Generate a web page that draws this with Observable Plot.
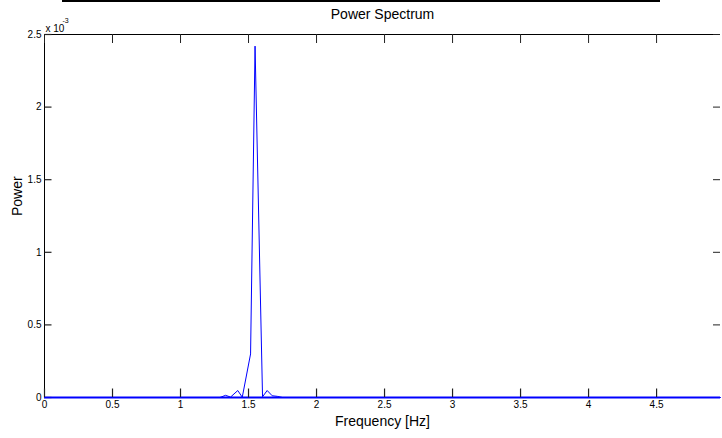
<!DOCTYPE html>
<html>
<head>
<meta charset="utf-8">
<script src="https://cdn.jsdelivr.net/npm/d3@7"></script>
<script src="https://cdn.jsdelivr.net/npm/@observablehq/plot@0.6"></script>
<style>
  html, body { margin: 0; padding: 0; background: white; }
  #wrap { position: relative; width: 722px; height: 438px; }
  #bar { position: absolute; left: 62px; top: 0; width: 598px; height: 2px; background: black; }
</style>
</head>
<body>
<div id="wrap"><div id="bar"></div></div>
<script>
// Frequency (Hz) and power (x 10^-3)
const freq  = [0, 1.29, 1.331, 1.368, 1.421, 1.454, 1.515, 1.548, 1.603, 1.637, 1.674, 1.711, 1.75, 4.97];
const power = [0, 0, 0.015, 0.003, 0.048, 0.002, 0.30, 2.42, 0.005, 0.048, 0.012, 0.008, 0, 0];
const xTicks = [0, 0.5, 1, 1.5, 2, 2.5, 3, 3.5, 4, 4.5];
const yTicks = [0, 0.5, 1, 1.5, 2, 2.5];
const title = "Power Spectrum";
const xLabel = "Frequency [Hz]";
const yLabel = "Power";

const data = freq.map((f, i) => ({f, p: power[i]}));
const narrow = "'Liberation Sans Narrow', 'Arial Narrow', 'Liberation Sans', Arial, sans-serif";
const sans = "'Liberation Sans', Arial, sans-serif";

const W = 722, H = 438, mT = 34, mL = 44, mR = 2, mB = 41;
const xMax = 4.97, yMax = 2.5;
const fw = W - mL - mR, fh = H - mT - mB, tlx = 9, tly = 7;
const tickColor = "#222";

const chart = Plot.plot({
  width: W,
  height: H,
  marginTop: mT,
  marginLeft: mL,
  marginRight: mR,
  marginBottom: mB,
  x: {domain: [0, xMax], axis: null},
  y: {domain: [0, yMax], axis: null},
  style: {fontFamily: narrow, fontSize: "10px", background: "white", color: "black"},
  marks: [
    // box
    Plot.ruleX([0], {stroke: "black"}),
    Plot.ruleY([yMax], {stroke: "black"}),
    Plot.ruleY([0], {stroke: "#0000ff", strokeWidth: 2}),
    // inward ticks on all four sides
    Plot.ruleX(xTicks, {x: d => d, insetBottom: fh - tlx, stroke: tickColor}),
    Plot.link(xTicks, {x1: d => d, x2: d => d, y1: 0, y2: yMax * tlx / fh, stroke: tickColor, strokeWidth: 1.2}),
    Plot.ruleY(yTicks, {y: d => d, insetLeft: fw - tly, stroke: tickColor}),
    Plot.link(yTicks, {y1: d => d, y2: d => d, x1: 0, x2: xMax * tly / fw, stroke: tickColor, strokeWidth: 1.2}),
    // tick labels
    Plot.text(xTicks, {x: d => d, frameAnchor: "bottom", dy: 10, text: d => String(d), fontSize: 10}),
    Plot.text(yTicks, {y: d => d, frameAnchor: "left", dx: -3, textAnchor: "end", text: d => String(d), fontSize: 10}),
    // data
    Plot.line(data, {x: "f", y: "p", stroke: "#0000ff", strokeWidth: 1}),
    Plot.text([title], {frameAnchor: "top", dy: -25, fontSize: 14, fontFamily: sans}),
    Plot.text([xLabel], {frameAnchor: "bottom", dy: 28, fontSize: 14, fontFamily: sans}),
    Plot.text([yLabel], {frameAnchor: "left", dx: -27, rotate: -90, fontSize: 14, fontFamily: sans}),
    Plot.text(["x 10"], {frameAnchor: "top-left", dy: -10, dx: 1, textAnchor: "start", fontSize: 10}),
    Plot.text(["-3"], {frameAnchor: "top-left", dy: -16, dx: 18, textAnchor: "start", fontSize: 7})
  ]
});
document.getElementById("wrap").appendChild(chart);
</script>
</body>
</html>
